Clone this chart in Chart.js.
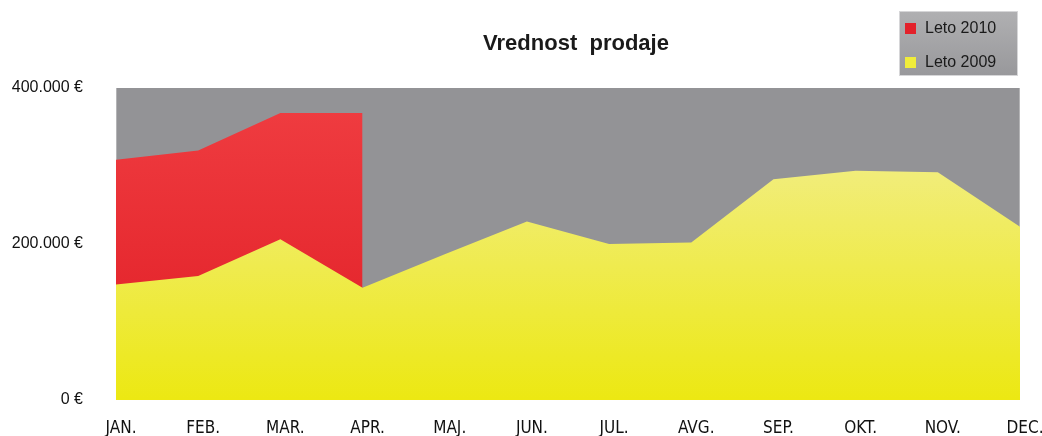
<!DOCTYPE html>
<html>
<head>
<meta charset="utf-8">
<script src="https://cdn.jsdelivr.net/npm/chart.js@4/dist/chart.umd.min.js"></script>
<style>
  html, body { margin: 0; padding: 0; background: #fff; }
  #wrap { width: 1042px; height: 436px; position: relative; }
</style>
</head>
<body>
<div id="wrap"><canvas id="salesChart"></canvas></div>
<script>
const months = ['JAN.', 'FEB.', 'MAR.', 'APR.', 'MAJ.', 'JUN.', 'JUL.', 'AVG.', 'SEP.', 'OKT.', 'NOV.', 'DEC.'];
const leto2010 = [308000, 320000, 368000, 368000];
const leto2009 = [148000, 159000, 206000, 144000, 187000, 229000, 200000, 202000, 283000, 294000, 292000, 222000];
const yTicks = [0, 200000, 400000];
const seriesNames = ['Leto 2010', 'Leto 2009'];

function euro(v) {
  return String(v).replace(/\B(?=(\d{3})+(?!\d))/g, '.') + ' €';
}

function vGradient(top, bottom) {
  return (context) => {
    const chart = context.chart;
    const area = chart.chartArea;
    if (!area) return top;
    const g = chart.ctx.createLinearGradient(0, area.top, 0, area.bottom);
    g.addColorStop(0, top);
    g.addColorStop(1, bottom);
    return g;
  };
}

// drop the label overflow padding so the plot keeps its size
function noPad(scale) {
  scale.paddingLeft = 0;
  scale.paddingRight = 0;
  scale.paddingTop = 0;
  scale.paddingBottom = 0;
}

// gray plot background + thin side borders
const plotBack = {
  id: 'plotBack',
  beforeDraw(chart) {
    const { ctx, chartArea: a } = chart;
    ctx.save();
    ctx.fillStyle = '#939396';
    ctx.fillRect(a.left, a.top, a.right - a.left, a.bottom - a.top);
    ctx.strokeStyle = '#b4b4b6';
    ctx.lineWidth = 1;
    ctx.beginPath();
    ctx.moveTo(a.left + 0.5, a.top);
    ctx.lineTo(a.left + 0.5, a.bottom);
    ctx.moveTo(a.right - 0.5, a.top);
    ctx.lineTo(a.right - 0.5, a.bottom);
    ctx.stroke();
    ctx.restore();
  }
};

// title and legend box in the top area
const topTexts = {
  id: 'topTexts',
  afterDraw(chart) {
    const ctx = chart.ctx;
    ctx.save();
    ctx.fillStyle = '#1a1a1a';
    ctx.font = 'bold 22px "Liberation Sans", Arial, sans-serif';
    ctx.textAlign = 'center';
    ctx.textBaseline = 'middle';
    ctx.fillText('Vrednost  prodaje', 576, 44);

    // legend
    const g = ctx.createLinearGradient(0, 11, 0, 76);
    g.addColorStop(0, '#b0b0b2');
    g.addColorStop(1, '#98989b');
    ctx.fillStyle = g;
    ctx.fillRect(899, 11, 119, 65);
    ctx.strokeStyle = '#d6d6d8';
    ctx.strokeRect(899.5, 11.5, 118, 64);
    const swatches = ['#e3212a', '#f0ec3a'];
    const rows = [28, 62];
    ctx.textAlign = 'left';
    ctx.font = '16px "Liberation Sans", sans-serif';
    seriesNames.forEach((name, i) => {
      ctx.fillStyle = swatches[i];
      ctx.fillRect(905, rows[i] - 5, 11, 11);
      ctx.fillStyle = '#1a1a1a';
      ctx.fillText(name, 925, rows[i] + 1);
    });
    ctx.restore();
  }
};

new Chart(document.getElementById('salesChart'), {
  type: 'line',
  data: {
    labels: months,
    datasets: [
      {
        label: seriesNames[0],
        data: leto2010,
        fill: 'origin',
        order: 2,
        backgroundColor: vGradient('#f03e42', '#e01c24'),
        borderWidth: 0,
        pointRadius: 0,
        tension: 0
      },
      {
        label: seriesNames[1],
        data: leto2009,
        fill: 'origin',
        order: 1,
        backgroundColor: vGradient('#f3efa0', '#ece812'),
        borderWidth: 0,
        pointRadius: 0,
        tension: 0
      }
    ]
  },
  options: {
    responsive: true,
    maintainAspectRatio: false,
    animation: false,
    layout: { padding: { top: 88, right: 22, left: 0, bottom: 0 } },
    plugins: {
      legend: { display: false },
      title: { display: false },
      tooltip: { enabled: false }
    },
    scales: {
      x: {
        offset: false,
        grid: { display: false, drawTicks: false },
        border: { display: false },
        ticks: {
          color: '#111',
          font: { family: '"DejaVu Sans Condensed", "Liberation Sans", sans-serif', size: 17 },
          padding: 18,
          labelOffset: 5,
          maxRotation: 0,
          autoSkip: false
        },
        afterFit(scale) { scale.height = 36; noPad(scale); }
      },
      y: {
        min: 0,
        max: 400000,
        afterBuildTicks(scale) { scale.ticks = yTicks.map(v => ({ value: v })); },
        grid: { display: false, drawTicks: false },
        border: { display: false },
        ticks: {
          color: '#111',
          font: { family: '"Liberation Sans", Arial, sans-serif', size: 16 },
          padding: 33,
          callback: (v) => euro(v)
        },
        afterFit(scale) { scale.width = 116; noPad(scale); }
      }
    }
  },
  plugins: [plotBack, topTexts]
});
</script>
</body>
</html>
